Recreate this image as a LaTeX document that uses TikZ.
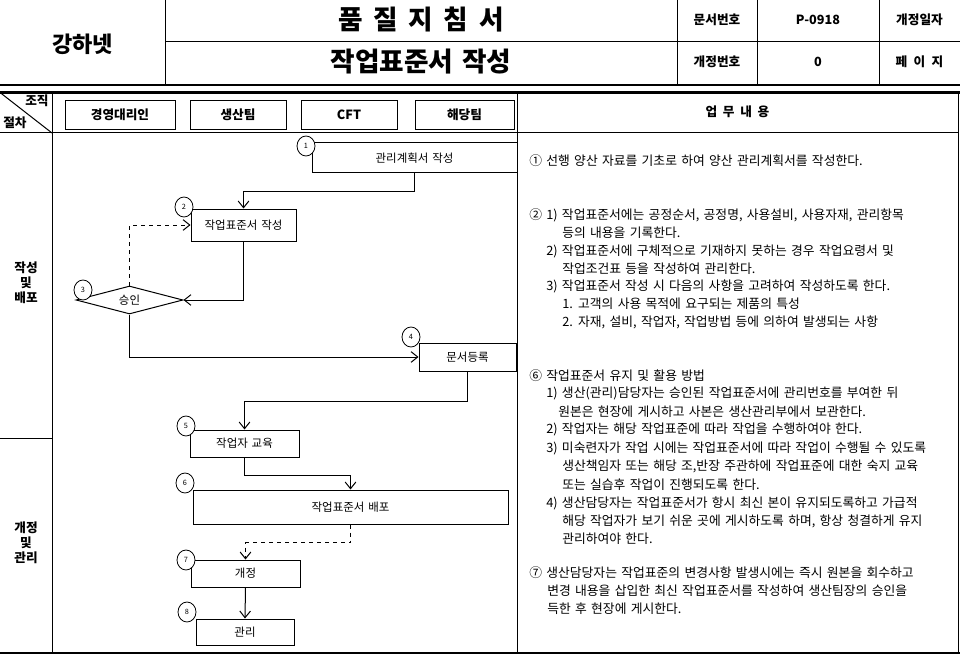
\documentclass[tikz,border=0pt]{standalone}
\usepackage{fontspec}
\setmainfont{Noto Sans CJK KR}[WordSpace=1.5]
\usetikzlibrary{shapes.geometric,arrows.meta}
\tikzset{
  gridline/.style={line width=0.75pt},
  heavyline/.style={line width=1.6pt},
  fbox/.style={draw, line width=0.75pt, inner sep=0, font=\fontsize{8.6}{10}\selectfont},
  hbox/.style={draw, line width=0.75pt, inner sep=0, minimum height=21.75pt, font=\bfseries\fontsize{9.5}{11}\selectfont},
  numc/.style={draw, ellipse, fill=white, line width=0.6pt, minimum width=13.5pt, minimum height=15pt, inner sep=0, font=\fontsize{5.5}{6}\selectfont},
  arr/.style={line width=0.75pt, -{Straight Barb[length=5pt,width=8pt]}},
  txt/.style={anchor=west, inner sep=0, font=\fontsize{9.6}{11}\selectfont},
  hcell/.style={font=\bfseries\fontsize{9.5}{11}\selectfont, inner sep=0},
  side/.style={font=\bfseries\fontsize{9.5}{11.25}\selectfont, align=center, inner sep=0}
}
\begin{document}
\begin{tikzpicture}[x=0.75pt,y=-0.75pt]
\useasboundingbox (0,0) rectangle (960,656);
\fill[white] (0,0) rectangle (960,656);
% ---------- header grid ----------
\draw[gridline] (165,0) -- (165,85);
\draw[gridline] (165,41.5) -- (960,41.5);
\draw[gridline] (677,0) -- (677,85);
\draw[gridline] (757,0) -- (757,85);
\draw[gridline] (879,0) -- (879,85);
\draw[heavyline] (0,85) -- (960,85);
\draw[heavyline] (0,92.5) -- (960,92.5);
% ---------- header texts ----------
\node[font=\bfseries\fontsize{16.5}{18}\selectfont, inner sep=0] (company) at (82.5,44) {강하넷};
\node[font=\bfseries\fontsize{20}{22}\selectfont, inner sep=0] (title1) at (421,20) {품\hspace{0.4em}질\hspace{0.4em}지\hspace{0.4em}침\hspace{0.4em}서};
\node[font=\bfseries\fontsize{20}{22}\selectfont, inner sep=0] (title2) at (421,62) {작업표준서 작성};
\node[hcell] (docno) at (717,20) {문서번호};
\node[hcell] (docnov) at (818,20) {P-0918};
\node[hcell] (revdate) at (919.5,20) {개정일자};
\node[hcell] (revno) at (717,62) {개정번호};
\node[hcell] (revnov) at (818,62) {0};
\node[hcell] (page) at (919.5,62) {페\hspace{0.5em}이\hspace{0.5em}지};
% ---------- table grid ----------
\draw[gridline] (52,92.5) -- (52,653);
\draw[gridline] (517,92.5) -- (517,653);
\draw[gridline] (958.5,92.5) -- (958.5,653);
\draw[gridline] (0,133) -- (958.5,133);
\draw[gridline] (0,92.5) -- (52,133);
\draw[gridline] (0,438) -- (52,438);
\draw[heavyline] (0,653) -- (960,653);
% ---------- column header ----------
\node[hcell, anchor=west] (org) at (25,101) {조직};
\node[hcell, anchor=west] (proc) at (3,123) {절차};
\node[hbox, minimum width=82.5pt] (h1) at (120,115) {경영대리인};
\node[hbox, minimum width=72pt] (h2) at (238,115) {생산팀};
\node[hbox, minimum width=72pt] (h3) at (349,115) {CFT};
\node[hbox, minimum width=74.25pt] (h4) at (464.5,115) {해당팀};
\node[hcell] (work) at (737.5,112) {업\hspace{0.45em}무\hspace{0.45em}내\hspace{0.45em}용};
% ---------- side labels ----------
\node[side] (s1) at (26,283) {작성\\및\\배포};
\node[side] (s2) at (26,543) {개정\\및\\관리};
% ---------- flow ----------
\node[fbox, minimum width=153.75pt, minimum height=22.5pt] (b1) at (414.5,158) {관리계획서 작성};
\node[fbox, minimum width=78.75pt, minimum height=24pt] (b2) at (243.5,225) {작업표준서 작성};
\node[draw, diamond, line width=0.75pt, inner sep=0, aspect=3.8, minimum width=80.25pt, minimum height=21pt, font=\fontsize{8.6}{10}\selectfont] (d3) at (129.5,300) {승인};
\node[fbox, minimum width=72.75pt, minimum height=21pt] (b4) at (467.5,357) {문서등록};
\node[fbox, minimum width=81.75pt, minimum height=20.25pt] (b5) at (244.5,443.5) {작업자 교육};
\node[fbox, minimum width=236.25pt, minimum height=25.5pt] (b6) at (350.5,507) {작업표준서 배포};
\node[fbox, minimum width=81.75pt, minimum height=20.25pt] (b7) at (245.5,573.5) {개정};
\node[fbox, minimum width=73.5pt, minimum height=19.5pt] (b8) at (245,632) {관리};
% connectors
\draw[arr] (b1.south) -- ++(0,18) -| (b2.north);
\draw[arr, dashed] (d3.north) |- (b2.west);
\draw[arr] (b2.south) |- (d3.east);
\draw[arr] (d3.south) |- (b4.west);
\draw[arr] (b4.south) -- ++(0,30) -| (b5.north);
\draw[arr] (b5.south) -- ++(0,18) -| (b6.north);
\draw[arr, dashed] (b6.south) -- ++(0,18) -| (b7.north);
\draw[arr] (b7.south) -- (b8.north);
% step numbers
\node[numc] (n1) at (306,146) {1};
\node[numc] (n2) at (184,207) {2};
\node[numc] (n3) at (83,290) {3};
\node[numc] (n4) at (411,337) {4};
\node[numc] (n5) at (186,426) {5};
\node[numc] (n6) at (185,483) {6};
\node[numc] (n7) at (186,560) {7};
\node[numc] (n8) at (187,612) {8};
% ---------- description text ----------
\node[txt] (t1) at (529,160.5) {① 선행 양산 자료를 기초로 하여 양산 관리계획서를 작성한다.};
\node[txt] (t2) at (529,215) {②};
\node[txt] (t2a) at (546,215) {1) 작업표준서에는 공정순서, 공정명, 사용설비, 사용자재, 관리항목};
\node[txt] (t2b) at (562,233) {등의 내용을 기록한다.};
\node[txt] (t2c) at (546,251) {2) 작업표준서에 구체적으로 기재하지 못하는 경우 작업요령서 및};
\node[txt] (t2d) at (562,268.5) {작업조건표 등을 작성하여 관리한다.};
\node[txt] (t2e) at (546,286) {3) 작업표준서 작성 시 다음의 사항을 고려하여 작성하도록 한다.};
\node[txt] (t2f) at (562,304) {1. 고객의 사용 목적에 요구되는 제품의 특성};
\node[txt] (t2g) at (562,322) {2. 자재, 설비, 작업자, 작업방법 등에 의하여 발생되는 사항};
\node[txt] (t6) at (529,376) {⑥ 작업표준서 유지 및 활용 방법};
\node[txt] (t6a) at (546,393.5) {1) 생산(관리)담당자는 승인된 작업표준서에 관리번호를 부여한 뒤};
\node[txt] (t6b) at (558,411.5) {원본은 현장에 게시하고 사본은 생산관리부에서 보관한다.};
\node[txt] (t6c) at (546,429.5) {2) 작업자는 해당 작업표준에 따라 작업을 수행하여야 한다.};
\node[txt] (t6d) at (546,448) {3) 미숙련자가 작업 시에는 작업표준서에 따라 작업이 수행될 수 있도록};
\node[txt] (t6e) at (562,466.5) {생산책임자 또는 해당 조,반장 주관하에 작업표준에 대한 숙지 교육};
\node[txt] (t6f) at (562,484.5) {또는 실습후 작업이 진행되도록 한다.};
\node[txt] (t6g) at (546,503) {4) 생산담당자는 작업표준서가 항시 최신 본이 유지되도록하고 가급적};
\node[txt] (t6h) at (562,521) {해당 작업자가 보기 쉬운 곳에 게시하도록 하며, 항상 청결하게 유지};
\node[txt] (t6i) at (562,539) {관리하여야 한다.};
\node[txt] (t7) at (529,573) {⑦ 생산담당자는 작업표준의 변경사항 발생시에는 즉시 원본을 회수하고};
\node[txt] (t7a) at (547,591) {변경 내용을 삽입한 최신 작업표준서를 작성하여 생산팀장의 승인을};
\node[txt] (t7b) at (547,608.5) {득한 후 현장에 게시한다.};
\end{tikzpicture}
\end{document}
